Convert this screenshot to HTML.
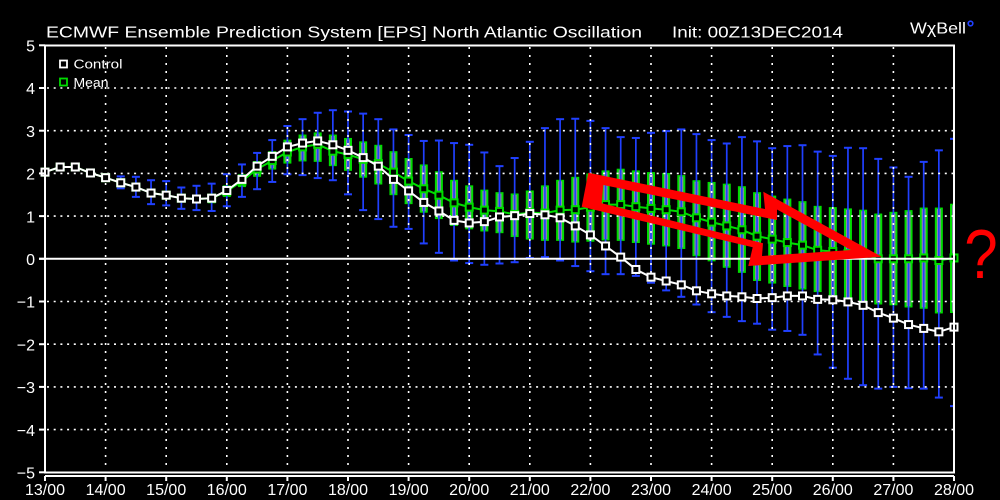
<!DOCTYPE html>
<html><head><meta charset="utf-8">
<style>
html,body{margin:0;padding:0;background:#000;overflow:hidden;}
svg{display:block}
text{font-family:"Liberation Sans",sans-serif;fill:#fff}
</style></head><body>
<svg id="s" width="1000" height="500" viewBox="0 0 1000 500" xmlns="http://www.w3.org/2000/svg">
<rect width="1000" height="500" fill="#000"/>
<defs><clipPath id="pc"><rect x="45" y="44" width="908.5" height="429"/></clipPath></defs>
<g id="data" clip-path="url(#pc)"></g>
<g id="grid"></g>
<g id="meanG"></g>
<line x1="39" y1="258.8" x2="954" y2="258.8" stroke="#fff" stroke-width="2"/>
<g id="ctrlG"></g>
<g id="frame" fill="none" stroke="#fff" stroke-width="2">
<rect x="45" y="45.5" width="909" height="427"/>
<line x1="45" y1="476" x2="954" y2="476"/>
</g>
<g id="ticks"></g>
<g id="ylab" font-size="16" text-anchor="end">
<text x="35" y="51.5">5</text>
<text x="35" y="94.2">4</text>
<text x="35" y="136.9">3</text>
<text x="35" y="179.6">2</text>
<text x="35" y="222.3">1</text>
<text x="35" y="265">0</text>
<text x="35" y="307.7">−1</text>
<text x="35" y="350.4">−2</text>
<text x="35" y="393.1">−3</text>
<text x="35" y="435.8">−4</text>
<text x="35" y="478.5">−5</text>
</g>
<g id="xlab" font-size="16" text-anchor="middle">
<text x="45" y="495">13/00</text>
<text x="105.6" y="495">14/00</text>
<text x="166.2" y="495">15/00</text>
<text x="226.8" y="495">16/00</text>
<text x="287.4" y="495">17/00</text>
<text x="348" y="495">18/00</text>
<text x="408.6" y="495">19/00</text>
<text x="469.2" y="495">20/00</text>
<text x="529.8" y="495">21/00</text>
<text x="590.4" y="495">22/00</text>
<text x="651" y="495">23/00</text>
<text x="711.6" y="495">24/00</text>
<text x="772.2" y="495">25/00</text>
<text x="832.8" y="495">26/00</text>
<text x="893.4" y="495">27/00</text>
<text x="954" y="495">28/00</text>
</g>
<text x="46" y="37.5" font-size="15.5" textLength="596" lengthAdjust="spacingAndGlyphs">ECMWF Ensemble Prediction System [EPS] North Atlantic Oscillation</text>
<text x="672" y="37.5" font-size="15.5" textLength="171" lengthAdjust="spacingAndGlyphs">Init: 00Z13DEC2014</text>
<text x="910" y="33.5" font-size="16" textLength="56" lengthAdjust="spacingAndGlyphs">WχBell</text>
<circle cx="970.5" cy="23.5" r="2.3" fill="none" stroke="#2040ff" stroke-width="1.6"/>
<rect x="60" y="60.5" width="7" height="7" fill="none" stroke="#fff" stroke-width="1.8"/>
<text x="73.5" y="68.5" font-size="13" textLength="49" lengthAdjust="spacingAndGlyphs">Control</text>
<rect x="60" y="78.5" width="7" height="7" fill="none" stroke="#00dc00" stroke-width="1.8"/>
<text x="73.5" y="87" font-size="13" textLength="35" lengthAdjust="spacingAndGlyphs">Mean</text>
<path fill="#ff0000" fill-rule="evenodd" d="M588.3,172.7 L765,209 L763.3,191.7 L881.7,256.7 L748.3,266 L752.7,247.3 L581.7,206.7 Z M603.3,185 L777,220 L777,209.5 L851,250 L762,256 L763,243.3 L601.7,203.3 Z"/>
<text transform="translate(981,278) scale(0.86,1)" text-anchor="middle" font-size="70" style="fill:#ff0000">?</text>
</svg>
<script>
(function(){
var NS="http://www.w3.org/2000/svg";
var C=[2.03,2.15,2.15,2.01,1.90,1.78,1.68,1.54,1.49,1.42,1.40,1.42,1.60,1.86,2.17,2.40,2.62,2.71,2.76,2.67,2.54,2.37,2.17,1.86,1.59,1.32,1.12,0.90,0.84,0.87,0.98,1.01,1.06,1.03,0.96,0.77,0.56,0.30,0.04,-0.25,-0.43,-0.52,-0.61,-0.75,-0.82,-0.87,-0.89,-0.93,-0.91,-0.87,-0.87,-0.95,-0.96,-1.01,-1.09,-1.26,-1.39,-1.54,-1.63,-1.71,-1.60];
var M=C.slice(0,12).concat([1.58,1.82,2.10,2.30,2.50,2.62,2.68,2.52,2.44,2.33,2.23,2.03,1.82,1.64,1.49,1.31,1.21,1.14,1.11,1.04,1.08,1.07,1.14,1.15,1.21,1.27,1.27,1.22,1.18,1.15,1.10,0.96,0.86,0.77,0.68,0.53,0.46,0.38,0.32,0.20,0.17,0.12,0.11,0.00,0.00,0.00,0.02,-0.04,0.02]);
var WH=[null,null,null,null,null,1.93,1.92,1.84,1.82,1.67,1.71,1.76,1.98,2.21,2.48,2.78,3.11,3.27,3.42,3.48,3.45,3.40,3.27,3.03,2.90,2.76,2.77,2.71,2.67,2.49,2.17,2.36,2.74,3.06,3.27,3.28,3.23,3.06,2.85,2.83,2.95,2.99,3.03,2.92,2.78,2.70,2.85,2.75,2.59,2.64,2.66,2.51,2.41,2.60,2.59,2.34,2.14,1.92,2.27,2.54,2.81];
var WL=[null,null,null,null,null,1.65,1.45,1.28,1.25,1.17,1.14,1.12,1.23,1.45,1.63,1.80,1.98,1.96,1.89,1.84,1.51,1.14,0.93,0.75,0.70,0.36,0.14,-0.04,-0.10,-0.14,-0.11,-0.08,0.02,0.04,-0.04,-0.17,-0.29,-0.36,-0.36,-0.40,-0.56,-0.74,-0.89,-1.07,-1.25,-1.36,-1.46,-1.52,-1.66,-1.69,-1.78,-2.24,-2.55,-2.81,-2.96,-3.04,-3.00,-3.03,-3.04,-3.25,-3.45];
var BH=[2.10,2.22,2.22,2.08,1.97,1.88,1.78,1.63,1.58,1.50,1.50,1.52,1.72,1.98,2.29,2.52,2.79,2.91,2.96,2.91,2.83,2.75,2.67,2.52,2.36,2.21,2.05,1.85,1.72,1.62,1.56,1.53,1.60,1.72,1.85,1.92,2.00,2.07,2.11,2.07,2.03,2.01,1.96,1.84,1.80,1.76,1.70,1.56,1.48,1.41,1.35,1.24,1.21,1.18,1.15,1.06,1.10,1.14,1.20,1.20,1.29];
var BL=[1.96,2.08,2.08,1.94,1.83,1.70,1.58,1.45,1.40,1.32,1.30,1.30,1.45,1.68,1.92,2.09,2.23,2.28,2.27,2.17,2.06,1.90,1.74,1.49,1.28,1.08,0.93,0.77,0.69,0.64,0.60,0.51,0.45,0.42,0.42,0.38,0.40,0.43,0.42,0.37,0.33,0.29,0.23,0.06,-0.06,-0.21,-0.33,-0.52,-0.58,-0.66,-0.72,-0.78,-0.89,-0.97,-1.03,-1.07,-1.09,-1.14,-1.17,-1.28,-1.27];
function X(i){return 45+i*15.15;}
function Y(v){return 258.8-v*42.7;}
function el(tag,attrs,parent){var e=document.createElementNS(NS,tag);for(var k in attrs)e.setAttribute(k,attrs[k]);parent.appendChild(e);return e;}
var data=document.getElementById('data');
var GREEN="#00dc00",BLUE="#2040ff",GREY="#8a8aa6";
for(var i=0;i<61;i++){
  var x=X(i);
  var yh=Y(BH[i]),yl=Y(BL[i]);
  el('rect',{x:x-4,y:yh,width:8,height:yl-yh,fill:GREEN},data);
  el('rect',{x:x-2,y:yh+1.5,width:4,height:Math.max(0,yl-yh-3),fill:GREY},data);
  if(WH[i]!==null){
    var wh=Y(WH[i]),wl=Y(WL[i]);
    el('line',{x1:x,y1:wh,x2:x,y2:wl,stroke:BLUE,'stroke-width':1.7},data);
    el('line',{x1:x-4,y1:wh,x2:x+4,y2:wh,stroke:BLUE,'stroke-width':2},data);
    el('line',{x1:x-4,y1:wl,x2:x+4,y2:wl,stroke:BLUE,'stroke-width':2},data);
  }
}
var grid=document.getElementById('grid');
[4,3,2,1,-1,-2,-3,-4].forEach(function(v){
  el('line',{x1:47,y1:Y(v),x2:953,y2:Y(v),stroke:'#fff','stroke-width':1.6,'stroke-dasharray':'2 4.7'},grid);
});
for(var d=1;d<15;d++){
  var gx=45+d*60.6;
  el('line',{x1:gx,y1:47,x2:gx,y2:471,stroke:'#fff','stroke-width':1.6,'stroke-dasharray':'2 6'},grid);
}
var ticks=document.getElementById('ticks');
for(var v=-5;v<=5;v++){ el('line',{x1:39,y1:Y(v),x2:45,y2:Y(v),stroke:'#fff','stroke-width':2},ticks); }
for(var d=0;d<=15;d++){ var tx=45+d*60.6; el('line',{x1:tx,y1:476,x2:tx,y2:481,stroke:'#fff','stroke-width':2},ticks); }
var mg=document.getElementById('meanG');
var pts=[];for(var i=0;i<61;i++)pts.push(X(i).toFixed(1)+','+Y(M[i]).toFixed(1));
el('polyline',{points:pts.join(' '),fill:'none',stroke:GREEN,'stroke-width':2},mg);
for(var i=0;i<61;i++) el('rect',{x:X(i)-3.5,y:Y(M[i])-3.5,width:7,height:7,fill:'#000',stroke:GREEN,'stroke-width':2},mg);
var cg=document.getElementById('ctrlG');
pts=[];for(var i=0;i<61;i++)pts.push(X(i).toFixed(1)+','+Y(C[i]).toFixed(1));
el('polyline',{points:pts.join(' '),fill:'none',stroke:'#fff','stroke-width':2},cg);
for(var i=0;i<61;i++) el('rect',{x:X(i)-3.5,y:Y(C[i])-3.5,width:7,height:7,fill:'#000',stroke:'#fff','stroke-width':2},cg);
})();
</script>
</body></html>
